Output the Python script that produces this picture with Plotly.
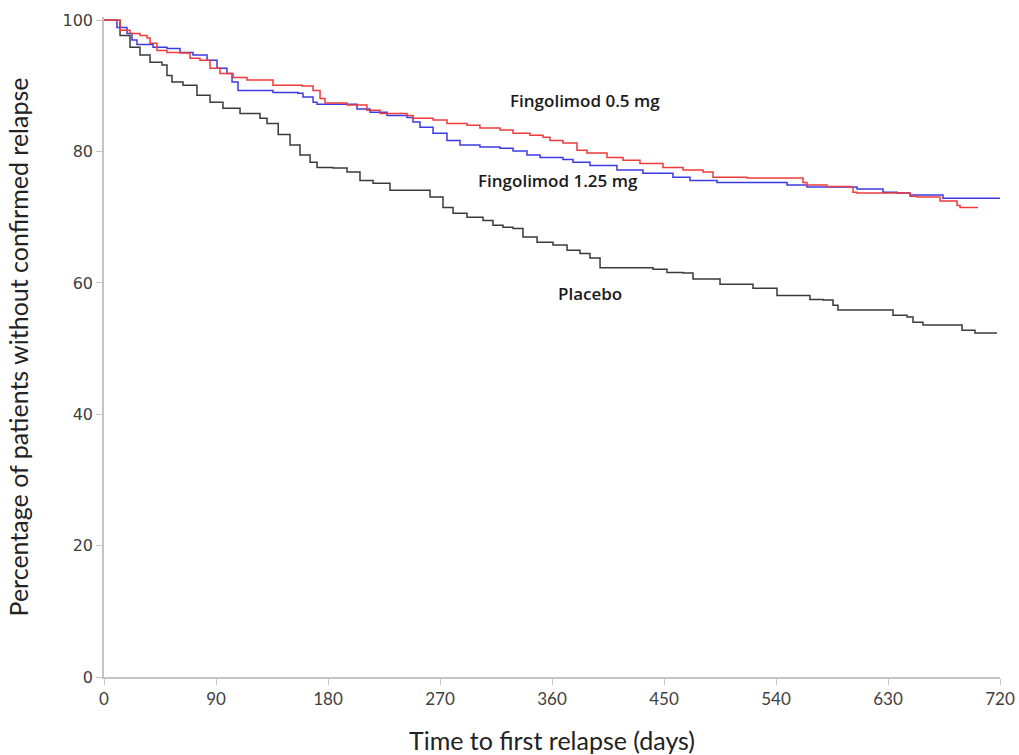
import plotly.graph_objects as go

# Kaplan-Meier step data (days, % without confirmed relapse)
placebo_days = [0, 12.9, 20.9, 28.9, 37.0, 46.6, 50.6, 54.6, 63.5, 74.7, 85.2, 95.6, 109.3, 125.4, 131.0,
                140.0, 149.5, 157.5, 165.6, 171.2, 184.0, 195.3, 205.7, 216.2, 229.8, 262.0, 272.4, 280.5,
                291.7, 304.6, 312.6, 320.6, 328.7, 336.7, 348.0, 360.8, 372.1, 382.5, 390.5, 398.6, 441.2,
                452.4, 465.3, 473.3, 495.0, 521.5, 540.8, 567.3, 577.8, 585.8, 589.8, 634.0, 645.3, 650.1,
                658.1, 689.5, 699.9, 717.6]
placebo_pct = [100, 97.7, 95.9, 94.7, 93.6, 93.2, 91.6, 90.6, 90.1, 88.6, 87.5, 86.6, 85.8, 85.1, 84.3,
               82.6, 81.0, 79.5, 78.4, 77.6, 77.5, 76.9, 75.6, 75.2, 74.1, 73.1, 71.5, 70.6,
               70.0, 69.5, 68.8, 68.5, 68.3, 67.0, 66.2, 65.8, 65.0, 64.5, 63.8, 62.3, 62.1,
               61.6, 61.5, 60.6, 59.8, 59.2, 58.1, 57.5, 57.4, 56.6, 55.9, 55.1, 54.8, 54.0,
               53.6, 52.8, 52.4, 52.4]

fg05_days = [0, 12.9, 20.9, 28.9, 34.6, 37.0, 42.6, 50.6, 61.1, 69.1, 77.1, 85.2, 93.2, 103.7, 114.9,
             135.8, 159.1, 168.0, 173.6, 177.6, 195.3, 211.3, 221.8, 243.5, 248.3, 264.4, 275.6, 291.7,
             302.1, 318.2, 328.7, 342.3, 352.8, 358.4, 368.8, 380.1, 388.1, 404.2, 417.1, 430.7, 449.2,
             465.3, 481.4, 489.4, 516.7, 561.7, 564.9, 581.0, 599.5, 601.9, 605.1, 647.7, 653.3, 671.8,
             685.5, 687.9, 702.3]
fg05_pct = [100, 98.5, 98.0, 97.7, 97.3, 96.5, 95.4, 95.1, 95.0, 94.2, 93.9, 92.7, 91.9, 91.3, 90.9,
            90.1, 90.0, 89.3, 88.1, 87.4, 87.1, 86.3, 85.8, 85.5, 85.1, 84.8, 84.3, 84.0,
            83.6, 83.3, 82.8, 82.5, 82.2, 81.7, 81.3, 80.2, 79.8, 79.1, 78.7, 78.2, 77.6,
            77.2, 76.9, 76.1, 76.0, 75.3, 74.9, 74.7, 74.6, 73.8, 73.7, 73.2, 73.1, 72.5,
            71.8, 71.5, 71.5]

fg125_days = [0, 10.4, 18.5, 22.5, 26.5, 39.4, 50.6, 61.1, 71.5, 82.8, 90.8, 98.8, 102.9, 107.7, 135.8,
              155.9, 159.9, 168.0, 171.2, 203.3, 213.8, 227.4, 243.5, 248.3, 253.9, 264.4, 275.6, 286.1,
              302.1, 318.2, 328.7, 339.9, 350.4, 368.8, 376.9, 390.5, 412.2, 433.1, 457.2, 470.9, 492.6,
              548.9, 564.9, 605.1, 626.0, 637.3, 647.7, 674.2, 720]
fg125_pct = [100, 98.9, 98.0, 97.0, 96.3, 95.9, 95.7, 95.1, 94.7, 93.9, 92.7, 91.9, 90.6, 89.3, 89.0,
             88.9, 88.3, 87.5, 87.2, 86.5, 86.0, 85.5, 85.2, 84.5, 83.7, 82.8, 81.7, 81.0,
             80.7, 80.5, 80.1, 79.5, 79.1, 78.8, 78.4, 77.9, 77.2, 76.7, 76.1, 75.6, 75.3,
             74.9, 74.6, 74.3, 73.8, 73.7, 73.4, 72.9, 72.9]

x_ticks = [0, 90, 180, 270, 360, 450, 540, 630, 720]
y_ticks = [0, 20, 40, 60, 80, 100]

labels = ["Fingolimod 0.5 mg", "Fingolimod 1.25 mg", "Placebo"]
label_x = [386.5, 364.8, 390.5]
label_y = [87.8, 75.6, 58.4]

fig = go.Figure()
fig.add_trace(go.Scatter(x=placebo_days, y=placebo_pct, mode="lines", line_shape="hv",
                         line=dict(color="#3a3a3a", width=1.5), name="Placebo"))
fig.add_trace(go.Scatter(x=fg125_days, y=fg125_pct, mode="lines", line_shape="hv",
                         line=dict(color="#3b3be6", width=1.5), name="Fingolimod 1.25 mg"))
fig.add_trace(go.Scatter(x=fg05_days, y=fg05_pct, mode="lines", line_shape="hv",
                         line=dict(color="#ee3b3b", width=1.5), name="Fingolimod 0.5 mg"))

for t, xx, yy in zip(labels, label_x, label_y):
    fig.add_annotation(x=xx, y=yy, text=t, showarrow=False,
                       font=dict(family="Open Sans", size=17, color="#1a1a1a", weight=600))

fig.update_layout(
    width=1019, height=755,
    margin=dict(l=104, r=19, t=17, b=78, autoexpand=False),
    paper_bgcolor="white", plot_bgcolor="white",
    showlegend=False,
    xaxis=dict(range=[0, 720], tickvals=x_ticks, showgrid=False, zeroline=False, automargin=False,
               showline=True, linecolor="#c4c4c4", linewidth=1.5, ticklabeloverflow="allow",
               ticks="outside", ticklen=6, tickcolor="#c4c4c4",
               tickfont=dict(family="Lato", size=17, color="#404040"),
               title=dict(text="Time to first relapse (days)", standoff=35,
                          font=dict(family="Lato", size=25, color="#222"))),
    yaxis=dict(range=[0, 100.5], tickvals=y_ticks, showgrid=False, zeroline=False, automargin=False,
               showline=True, linecolor="#c4c4c4", linewidth=1.5,
               ticks="outside", ticklen=6, tickcolor="#c4c4c4",
               tickfont=dict(family="DejaVu Sans", size=16, color="#404040"),
               title=dict(text="Percentage of patients without confirmed relapse", standoff=27,
                          font=dict(family="Lato", size=25, color="#222"))),
)

fig.write_html("out.html", config={"displayModeBar": False},
               post_script="document.body.style.margin='0px';")
